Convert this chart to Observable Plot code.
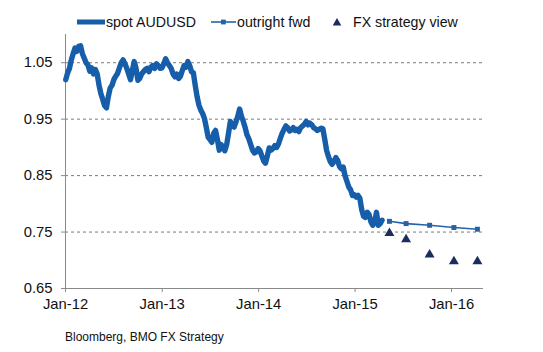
<!DOCTYPE html>
<html>
<head>
<meta charset="utf-8">
<script src="https://cdn.jsdelivr.net/npm/d3@7"></script>
<script src="https://cdn.jsdelivr.net/npm/@observablehq/plot@0.6"></script>
<style>
  html, body { margin: 0; padding: 0; background: #fff; }
  body { width: 543px; height: 352px; overflow: hidden; font-family: "Liberation Sans", Arial, sans-serif; }
  #legend { position: relative; width: 543px; height: 30px; font-size: 14.2px; color: #111; }
  #legend .it { position: absolute; top: 13px; height: 18px; line-height: 18px; white-space: nowrap; }
  #legend svg { position: absolute; }
  #caption { margin: 12px 0 0 65px; font-size: 12px; color: #111; line-height: 14px; }
</style>
</head>
<body>
<div id="legend"></div>
<div id="chart"></div>
<div id="caption"></div>
<script>
// ---- data ----
const spotDates = [
  "2012-01-02","2012-01-09","2012-01-16","2012-01-23","2012-01-30","2012-02-06","2012-02-13","2012-02-20","2012-02-27","2012-03-05",
  "2012-03-12","2012-03-19","2012-03-26","2012-04-02","2012-04-09","2012-04-16","2012-04-23","2012-04-30","2012-05-07","2012-05-14",
  "2012-05-21","2012-05-28","2012-06-04","2012-06-11","2012-06-18","2012-06-25","2012-07-02","2012-07-09","2012-07-16","2012-07-23",
  "2012-07-30","2012-08-06","2012-08-13","2012-08-20","2012-08-27","2012-09-03","2012-09-10","2012-09-17","2012-09-24","2012-10-01",
  "2012-10-08","2012-10-15","2012-10-22","2012-10-29","2012-11-05","2012-11-12","2012-11-19","2012-11-26","2012-12-03","2012-12-10",
  "2012-12-17","2012-12-24","2012-12-31","2013-01-07","2013-01-14","2013-01-21","2013-01-28","2013-02-04","2013-02-11","2013-02-18",
  "2013-02-25","2013-03-04","2013-03-11","2013-03-18","2013-03-25","2013-04-01","2013-04-08","2013-04-15","2013-04-22","2013-04-29",
  "2013-05-06","2013-05-13","2013-05-20","2013-05-27","2013-06-03","2013-06-10","2013-06-17","2013-06-24","2013-07-01","2013-07-08",
  "2013-07-15","2013-07-22","2013-07-29","2013-08-05","2013-08-12","2013-08-19","2013-08-26","2013-09-02","2013-09-09","2013-09-16",
  "2013-09-23","2013-09-30","2013-10-07","2013-10-14","2013-10-21","2013-10-28","2013-11-04","2013-11-11","2013-11-18","2013-11-25",
  "2013-12-02","2013-12-09","2013-12-16","2013-12-23","2013-12-30","2014-01-06","2014-01-13","2014-01-20","2014-01-27","2014-02-03",
  "2014-02-10","2014-02-17","2014-02-24","2014-03-03","2014-03-10","2014-03-17","2014-03-24","2014-03-31","2014-04-07","2014-04-14",
  "2014-04-21","2014-04-28","2014-05-05","2014-05-12","2014-05-19","2014-05-26","2014-06-02","2014-06-09","2014-06-16","2014-06-23",
  "2014-06-30","2014-07-07","2014-07-14","2014-07-21","2014-07-28","2014-08-04","2014-08-11","2014-08-18","2014-08-25","2014-09-01",
  "2014-09-08","2014-09-15","2014-09-22","2014-09-29","2014-10-06","2014-10-13","2014-10-20","2014-10-27","2014-11-03","2014-11-10",
  "2014-11-17","2014-11-24","2014-12-01","2014-12-08","2014-12-15","2014-12-22","2014-12-29","2015-01-05","2015-01-12","2015-01-19",
  "2015-01-26","2015-02-02","2015-02-09","2015-02-16","2015-02-23","2015-03-02","2015-03-09","2015-03-16","2015-03-23","2015-03-30",
  "2015-04-06","2015-04-13"
];
const spotValues = [
  1.020,1.032,1.040,1.055,1.066,1.076,1.070,1.079,1.080,1.066,
  1.058,1.050,1.046,1.035,1.041,1.030,1.038,1.030,1.010,0.995,
  0.985,0.974,0.970,0.990,1.005,1.010,1.020,1.026,1.031,1.041,
  1.050,1.055,1.048,1.040,1.030,1.020,1.036,1.052,1.040,1.019,
  1.022,1.030,1.034,1.038,1.040,1.034,1.042,1.045,1.040,1.048,
  1.045,1.040,1.041,1.048,1.057,1.050,1.045,1.040,1.030,1.025,
  1.030,1.022,1.026,1.036,1.045,1.042,1.052,1.045,1.034,1.032,
  1.010,0.990,0.975,0.966,0.960,0.951,0.935,0.918,0.914,0.909,
  0.925,0.930,0.914,0.895,0.905,0.900,0.894,0.905,0.925,0.946,
  0.940,0.936,0.945,0.955,0.968,0.955,0.946,0.935,0.922,0.915,
  0.905,0.895,0.890,0.892,0.898,0.894,0.885,0.876,0.872,0.885,
  0.899,0.895,0.898,0.903,0.900,0.906,0.916,0.925,0.932,0.938,
  0.935,0.929,0.931,0.935,0.930,0.932,0.928,0.935,0.938,0.941,
  0.946,0.940,0.943,0.940,0.935,0.933,0.930,0.932,0.934,0.933,
  0.915,0.895,0.884,0.875,0.870,0.875,0.882,0.877,0.866,0.862,
  0.865,0.850,0.840,0.830,0.825,0.815,0.816,0.812,0.815,0.810,
  0.790,0.778,0.776,0.785,0.781,0.768,0.762,0.768,0.785,0.762,
  0.765,0.771
];
const fwdDates = ["2015-05-11","2015-07-13","2015-10-10","2016-01-10","2016-04-08"];
const fwdValues = [0.769, 0.765, 0.762, 0.758, 0.755];
const viewDates = ["2015-05-11","2015-07-13","2015-10-10","2016-01-10","2016-04-08"];
const viewValues = [0.748, 0.737, 0.710, 0.698, 0.698];
const yTicks = [0.65, 0.75, 0.85, 0.95, 1.05];
const yGrid = [0.75, 0.85, 0.95, 1.05];
const xTickDates = ["2012-01-01","2013-01-01","2014-01-01","2015-01-01","2016-01-01"];
const xTickLabels = ["Jan-12","Jan-13","Jan-14","Jan-15","Jan-16"];
const legendLabels = ["spot AUDUSD", "outright fwd", "FX strategy view"];
const captionText = "Bloomberg, BMO FX Strategy";

// ---- build ----
const parse = d3.utcParse("%Y-%m-%d");
const spot = spotDates.map((d, i) => ({date: parse(d), value: spotValues[i]}));
const fwd = fwdDates.map((d, i) => ({date: parse(d), value: fwdValues[i]}));
const view = viewDates.map((d, i) => ({date: parse(d), value: viewValues[i]}));
const xTicks = xTickDates.map(parse);
const xStart = parse("2012-01-01"), xEnd = parse("2016-05-01");

const SPOT = "#165ea9", FWD = "#2563a6", VIEW = "#1b2d5c", GRID = "#7a7a7a", AX = "#8a8a8a";

const chart = Plot.plot({
  width: 543,
  height: 288,
  marginLeft: 65,
  marginRight: 60,
  marginTop: 4,
  marginBottom: 30,
  style: {fontFamily: "'Liberation Sans', Arial, sans-serif", fontSize: "14.8px", color: "#111", background: "#fff"},
  x: {type: "utc", domain: [xStart, xEnd]},
  y: {domain: [0.65, 1.10]},
  marks: [
    Plot.ruleY(yGrid, {stroke: GRID, strokeWidth: 1, strokeDasharray: "3,3"}),
    Plot.ruleX([xStart], {stroke: AX, strokeWidth: 1}),
    Plot.ruleY([0.65], {stroke: AX, strokeWidth: 1}),
    Plot.axisY({ticks: yTicks, tickFormat: d3.format(".2f"), tickSize: 4, tickPadding: 9, stroke: AX, label: null, fill: "#111"}),
    Plot.axisX({ticks: xTicks, tickFormat: (d) => xTickLabels[xTicks.findIndex(t => +t === +d)], tickSize: 4, tickPadding: 6, stroke: AX, label: null, fill: "#111"}),
    Plot.line(spot, {x: "date", y: "value", stroke: SPOT, strokeWidth: 5.4, strokeLinejoin: "round", strokeLinecap: "round"}),
    Plot.line(fwd, {x: "date", y: "value", stroke: FWD, strokeWidth: 1.6}),
    Plot.dot(fwd, {x: "date", y: "value", symbol: "square", r: 2.8, fill: FWD, stroke: "none"}),
    Plot.dot(view, {x: "date", y: "value", symbol: "triangle", r: 3.7, fill: VIEW, stroke: "none"})
  ]
});
document.getElementById("chart").appendChild(chart);

// ---- legend (HTML above the SVG) ----
const legend = document.getElementById("legend");
legend.innerHTML = `
  <svg style="left:77px;top:18px" width="30" height="8"><line x1="0" y1="4" x2="28" y2="4" stroke="${SPOT}" stroke-width="5"/></svg>
  <div class="it" style="left:106px">${legendLabels[0]}</div>
  <svg style="left:211px;top:18px" width="26" height="8"><line x1="0" y1="4" x2="25" y2="4" stroke="${FWD}" stroke-width="1.6"/><rect x="10" y="1.6" width="4.8" height="4.8" fill="${FWD}"/></svg>
  <div class="it" style="left:237px">${legendLabels[1]}</div>
  <svg style="left:332px;top:17px" width="10" height="10"><path d="M5,1 L9.3,8.4 L0.7,8.4 Z" fill="${VIEW}"/></svg>
  <div class="it" style="left:353px">${legendLabels[2]}</div>
`;
document.getElementById("caption").textContent = captionText;
</script>
</body>
</html>
